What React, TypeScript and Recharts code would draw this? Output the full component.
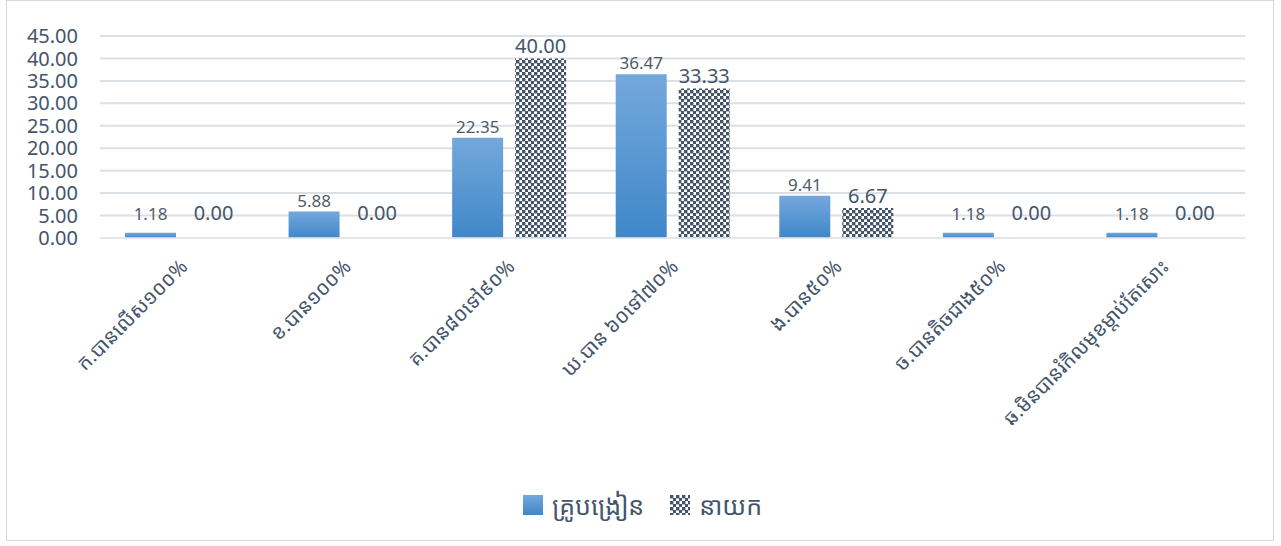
import React from 'react';
import { BarChart, Bar, XAxis, YAxis, CartesianGrid, Legend, LabelList, ReferenceLine } from 'recharts';

const categories = [
  'ក.បានលើស១០០%',
  'ខ.បាន១០០%',
  'គ.បាន៨០ទៅ៩០%',
  'ឃ.បាន ៦០ទៅ៧០%',
  'ង.បាន៥០%',
  'ច.បានតិចជាង៥០%',
  'ឆ.មិនបានរំកិលមុខម្តាប់តែសោះ',
];
const teachers = [1.18, 5.88, 22.35, 36.47, 9.41, 1.18, 1.18];
const directors = [0.0, 0.0, 40.0, 33.33, 6.67, 0.0, 0.0];
const yTicks = [0, 5, 10, 15, 20, 25, 30, 35, 40, 45];

const data = categories.map((name, i) => ({
  name,
  teachers: teachers[i],
  directors: directors[i],
}));

const FONT = '"Noto Sans Khmer", "Khmer OS", "Open Sans", "Noto Sans", sans-serif';
const TEXT = '#44546a';

const XTick = (props: any) => {
  const { x, y, payload } = props;
  return (
    <g transform={`translate(${x + 7},${y + 22})`}>
      <text textAnchor="end" transform="rotate(-45)" fill={TEXT} fontSize={20} fontFamily={FONT}>
        {payload.value}
      </text>
    </g>
  );
};

// labels sit above the bar, but never closer to the base than a fixed distance
const makeLabel = (size: number, color: string) => (props: any) => {
  const { x, y, width, height, value } = props;
  const base = y + height;
  const bottom = Math.min(y - 5, base - 18);
  return (
    <text x={x + width / 2} y={bottom} textAnchor="middle" fill={color} fontSize={size} fontFamily={FONT}>
      {Number(value).toFixed(2)}
    </text>
  );
};

const LegendContent = (props: any) => {
  const { payload } = props;
  return (
    <div style={{ display: 'flex', justifyContent: 'center', alignItems: 'center', height: 34, paddingLeft: 40 }}>
      {(payload || []).map((entry: any, i: number) => (
        <div key={i} style={{ display: 'flex', alignItems: 'center', marginRight: i === 0 ? 26 : 0 }}>
          <svg width={20} height={20} style={{ marginRight: 9 }}>
            <rect x={0} y={0} width={20} height={20} fill={entry.color} />
          </svg>
          <span style={{ color: TEXT, fontSize: 25, fontFamily: FONT }}>{entry.value}</span>
        </div>
      ))}
    </div>
  );
};

export default function App() {
  return (
    <div style={{ position: 'absolute', left: 0, top: 0, width: 1281, height: 546, background: '#fff' }}>
      <div
        style={{
          position: 'absolute',
          left: 6,
          top: 0,
          width: 1268,
          height: 541,
          border: '1px solid #d9d9d9',
          boxSizing: 'border-box',
        }}
      />
      <BarChart
        width={1281}
        height={546}
        data={data}
        margin={{ top: 36, right: 36, bottom: 0, left: 0 }}
        barSize={51}
        barGap={12}
      >
        <defs>
          <linearGradient id="blueGrad" x1="0" y1="0" x2="0" y2="1">
            <stop offset="0%" stopColor="#74a8dc" />
            <stop offset="100%" stopColor="#3f87c8" />
          </linearGradient>
          <pattern id="checker" width={6} height={6} patternUnits="userSpaceOnUse">
            <rect x={0} y={0} width={6} height={6} fill="#ffffff" />
            <rect x={0} y={0} width={3.4} height={3.4} fill="#44546a" />
            <rect x={3} y={3} width={3.4} height={3.4} fill="#44546a" />
          </pattern>
        </defs>
        <CartesianGrid vertical={false} stroke="#dcdfe4" strokeWidth={2} />
        <XAxis
          dataKey="name"
          interval={0}
          height={250}
          axisLine={false}
          tickLine={false}
          tick={<XTick />}
        />
        <YAxis
          width={100}
          domain={[0, 45]}
          ticks={yTicks}
          interval={0}
          axisLine={false}
          tickLine={false}
          tickMargin={16}
          tickFormatter={(v: number) => v.toFixed(2)}
          tick={{ fill: TEXT, fontSize: 20, fontFamily: FONT }}
        />
        <Legend
          verticalAlign="bottom"
          wrapperStyle={{ height: 58 }}
          content={<LegendContent />}
        />
        <Bar dataKey="teachers" name="គ្រូបង្រៀន" fill="url(#blueGrad)" isAnimationActive={false}>
          <LabelList dataKey="teachers" content={makeLabel(17, '#4f5b6b')} />
        </Bar>
        <Bar
          dataKey="directors"
          name="នាយក"
          fill="url(#checker)"
          minPointSize={0.01}
          isAnimationActive={false}
        >
          <LabelList dataKey="directors" content={makeLabel(20, TEXT)} />
        </Bar>
        <ReferenceLine y={0} stroke="#e4e8ee" strokeOpacity={0.8} strokeWidth={2} />
      </BarChart>
    </div>
  );
}
